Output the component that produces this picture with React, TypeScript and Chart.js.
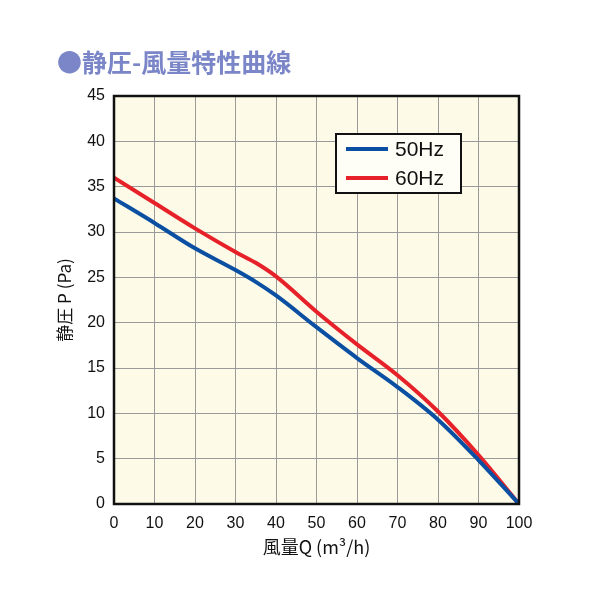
import React, { useEffect, useRef } from "react";
import { Chart, registerables } from "chart.js";
Chart.register(...registerables);

const flowQ = [0, 10, 20, 30, 35, 40, 50, 60, 70, 80, 90, 100];
const hz50 = [33.7, 31.0, 28.2, 25.8, 24.5, 23.0, 19.5, 16.1, 12.9, 9.3, 4.85, 0];
const hz60 = [36.0, 33.2, 30.4, 27.8, 26.6, 25.1, 21.2, 17.6, 14.2, 10.2, 5.4, 0];
const seriesLabels = ["50Hz", "60Hz"];
const seriesColors = ["#0b4fa3", "#e62129"];
const titleText = "●静圧-風量特性曲線";
const xTitle = "風量Q (m³/h)";
const yTitle = "静圧 P (Pa)";

const FONT = "'Liberation Sans', Arial, 'Noto Sans CJK JP', sans-serif";
const CJK = "'Noto Sans CJK JP', 'Liberation Sans', sans-serif";

const decorPlugin = {
  id: "decor",
  beforeDraw(chart: any) {
    const { ctx, chartArea: a } = chart;
    ctx.save();
    ctx.fillStyle = "#fdfbe7";
    ctx.fillRect(a.left, a.top, a.right - a.left, a.bottom - a.top);
    ctx.restore();
  },
  afterDraw(chart: any) {
    const { ctx, chartArea: a } = chart;
    ctx.save();
    // frame
    ctx.strokeStyle = "#111";
    ctx.lineWidth = 2.5;
    ctx.strokeRect(a.left, a.top, a.right - a.left, a.bottom - a.top);
    // title
    ctx.fillStyle = "#7b86c8";
    ctx.font = `bold 25px ${CJK}`;
    ctx.textBaseline = "middle";
    ctx.textAlign = "left";
    ctx.fillText(titleText, 57, 62);
    // legend box
    const lx = 336, ly = 134, lw = 125, lh = 59;
    ctx.fillStyle = "#fffef6";
    ctx.fillRect(lx, ly, lw, lh);
    ctx.strokeStyle = "#111";
    ctx.lineWidth = 2;
    ctx.strokeRect(lx, ly, lw, lh);
    seriesLabels.forEach((lab, i) => {
      const y = 149 + i * 29;
      ctx.strokeStyle = seriesColors[i];
      ctx.lineWidth = 4;
      ctx.beginPath();
      ctx.moveTo(346, y);
      ctx.lineTo(388, y);
      ctx.stroke();
      ctx.fillStyle = "#111";
      ctx.font = `21px ${FONT}`;
      ctx.textAlign = "left";
      ctx.textBaseline = "middle";
      ctx.fillText(lab, 395, y + 1);
    });
    ctx.restore();
  },
};

export default function App() {
  const ref = useRef<HTMLCanvasElement>(null);
  useEffect(() => {
    const chart = new Chart(ref.current!, {
      type: "line",
      data: {
        datasets: [
          {
            label: seriesLabels[0],
            data: flowQ.map((x, i) => ({ x, y: hz50[i] })),
            borderColor: seriesColors[0],
            borderWidth: 4,
            pointRadius: 0,
            cubicInterpolationMode: "monotone",
          },
          {
            label: seriesLabels[1],
            data: flowQ.map((x, i) => ({ x, y: hz60[i] })),
            borderColor: seriesColors[1],
            borderWidth: 4,
            pointRadius: 0,
            cubicInterpolationMode: "monotone",
          },
        ],
      },
      options: {
        animation: false,
        responsive: false,
        maintainAspectRatio: false,
        layout: { padding: { left: 0, top: 96, right: 81, bottom: 0 } },
        plugins: { legend: { display: false }, tooltip: { enabled: false }, title: { display: false } },
        scales: {
          x: {
            type: "linear",
            min: 0,
            max: 100,
            ticks: { stepSize: 10, color: "#111", font: { family: FONT, size: 16 }, padding: 10, maxRotation: 0 },
            grid: { color: "#9a9a9a", lineWidth: 1, drawTicks: false },
            border: { display: false },
            title: { display: true, text: xTitle, color: "#111", font: { family: CJK, size: 18 }, padding: { top: 0, bottom: 42 } },
            afterFit(s: any) { s.height = 96; },
          },
          y: {
            min: 0,
            max: 45,
            ticks: { stepSize: 5, color: "#111", font: { family: FONT, size: 16 }, padding: 9 },
            grid: { color: "#9a9a9a", lineWidth: 1, drawTicks: false },
            border: { display: false },
            title: { display: true, text: yTitle, color: "#111", font: { family: CJK, size: 17 }, padding: { top: 54, bottom: 0 } },
            afterFit(s: any) { s.width = 114; },
          },
        },
      },
      plugins: [decorPlugin],
    });
    return () => chart.destroy();
  }, []);
  return (
    <div style={{ position: "fixed", left: 0, top: 0, width: 600, height: 600, background: "#fff" }}>
      <canvas ref={ref} width={600} height={600} style={{ width: 600, height: 600 }} />
    </div>
  );
}
